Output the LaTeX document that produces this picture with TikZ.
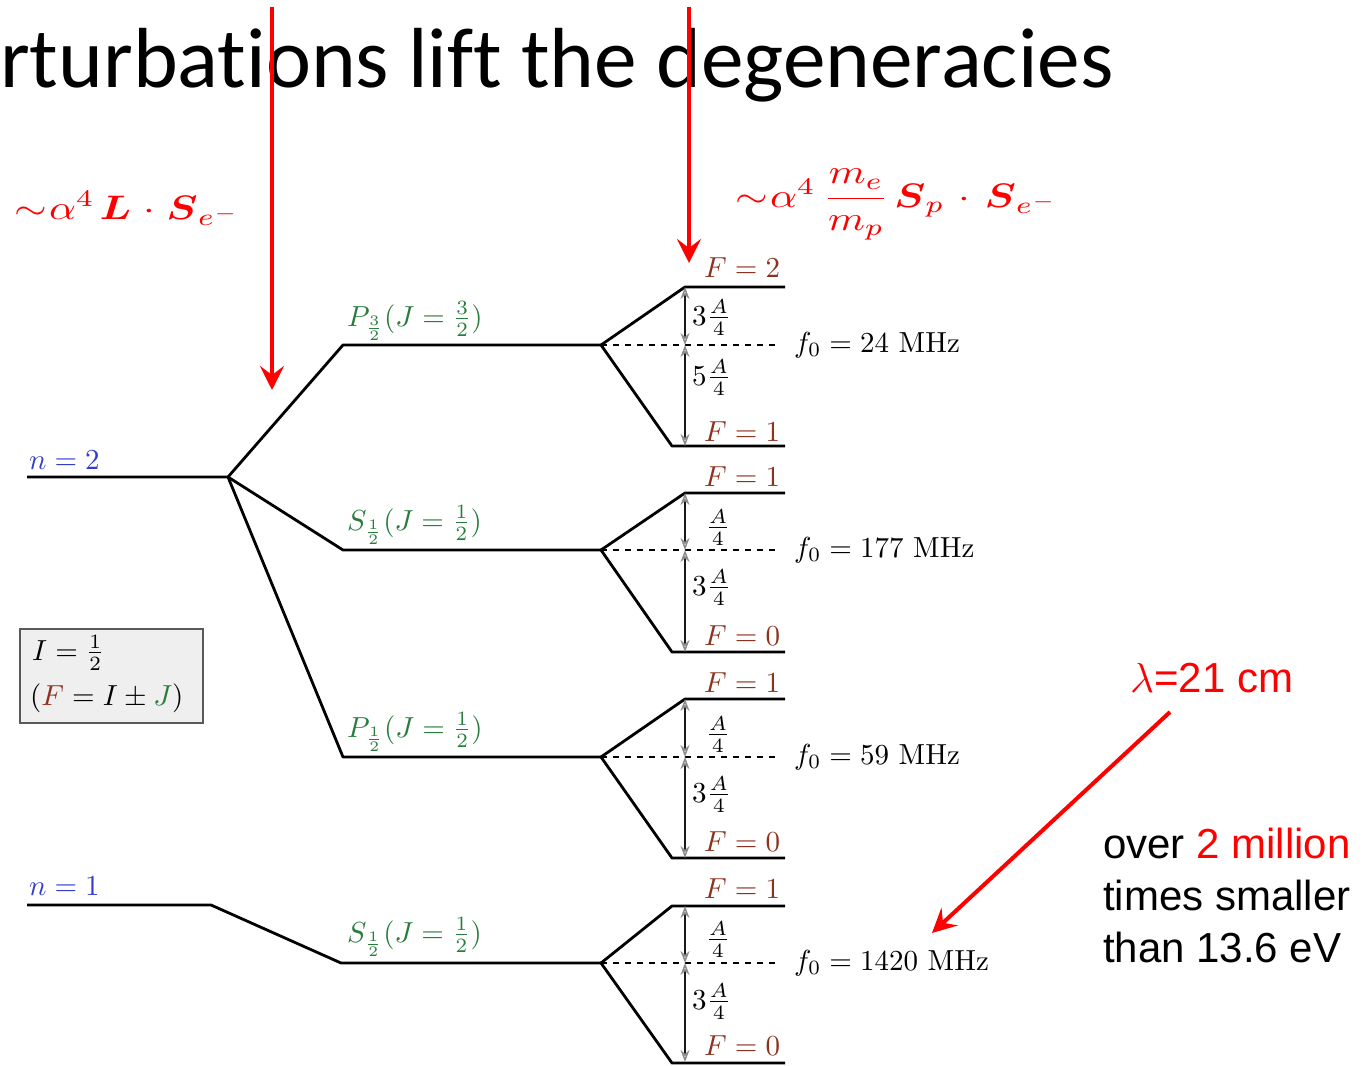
\RequirePackage{fix-cm}
\documentclass[tikz,border=0pt]{standalone}
\usepackage{amsmath}
\usepackage{graphicx}
\usepackage{fontspec}
\newfontfamily\calib[Ligatures=NoCommon]{Carlito}
\newfontfamily\arialf{Liberation Sans}
\usetikzlibrary{arrows.meta}
\definecolor{nblue}{RGB}{50,60,205}
\definecolor{jgreen}{RGB}{40,125,60}
\definecolor{fbrown}{RGB}{140,50,30}
\definecolor{boxfill}{RGB}{239,239,239}
\newcommand{\bx}[1]{\scalebox{2.9}{#1}}
\newcommand{\rx}[1]{\scalebox{4.2}[3.4]{#1}}
\begin{document}
\begin{tikzpicture}[x=1pt,y=-1pt,
  lvl/.style={line width=2.8pt, black, line join=round},
  hf/.style={line width=1.5pt, black!90,
    {Stealth[open,length=12pt,width=9pt,color=black!45]}-{Stealth[open,length=12pt,width=9pt,color=black!45]}},
  dsh/.style={line width=2pt, black, dash pattern=on 6pt off 6pt},
  redarr/.style={line width=4pt, red, -{Stealth[length=24pt,width=24pt,inset=9pt]}},
  lbl/.style={anchor=base west, inner sep=0pt},
  jl/.style={lbl, text=jgreen},
  fl/.style={lbl, text=fbrown},
  nl/.style={lbl, text=nblue},
  fr/.style={lbl},
  frc/.style={anchor=base, inner sep=0pt},
  redf/.style={anchor=base west, inner sep=0pt, text=red},
  sans/.style={anchor=base west, inner sep=0pt, font=\arialf\fontsize{42}{50}\selectfont}
]
\useasboundingbox (0,0) rectangle (1367,1065);

% title
\node[anchor=base west, inner sep=0pt, font=\calib\fontsize{85.3}{100}\selectfont] (title) at (0,88) {rturbations lift the degeneracies};

% fine structure levels
\coordinate (n2a) at (27,477);  \coordinate (n2b) at (228,477);
\coordinate (p32a) at (343,345); \coordinate (p32b) at (601,345);
\coordinate (s12a) at (343,550); \coordinate (s12b) at (601,550);
\coordinate (p12a) at (343,757); \coordinate (p12b) at (601,757);
\coordinate (n1a) at (27,905);  \coordinate (n1b) at (211,905);
\coordinate (s1a) at (341,963);  \coordinate (s1b) at (601,963);

\draw[lvl] (n2a) -- (n2b) -- (p32a) -- (p32b);
\draw[lvl] (n2b) -- (s12a) -- (s12b);
\draw[lvl] (n2b) -- (p12a) -- (p12b);
\draw[lvl] (n1a) -- (n1b) -- (s1a) -- (s1b);

% group 1 (P3/2)
\coordinate (g1t) at (685,287); \coordinate (g1te) at (785,287);
\coordinate (g1m) at (685,345); \coordinate (g1me) at (780,345);
\coordinate (g1d) at (672,446); \coordinate (g1de) at (785,446);
\coordinate (g1b) at (685,446);
\draw[lvl] (g1te) -- (g1t) -- (p32b) -- (g1d) -- (g1de);
\draw[dsh] (p32b) -- (g1me);
\draw[hf] (g1t) -- (g1m);
\draw[hf] (g1m) -- (g1b);

% group 2 (S1/2 n=2)
\coordinate (g2t) at (685,493); \coordinate (g2te) at (785,493);
\coordinate (g2m) at (685,550); \coordinate (g2me) at (780,550);
\coordinate (g2d) at (672,652); \coordinate (g2de) at (785,652);
\coordinate (g2b) at (685,652);
\draw[lvl] (g2te) -- (g2t) -- (s12b) -- (g2d) -- (g2de);
\draw[dsh] (s12b) -- (g2me);
\draw[hf] (g2t) -- (g2m);
\draw[hf] (g2m) -- (g2b);

% group 3 (P1/2)
\coordinate (g3t) at (685,699); \coordinate (g3te) at (785,699);
\coordinate (g3m) at (685,757); \coordinate (g3me) at (780,757);
\coordinate (g3d) at (672,858); \coordinate (g3de) at (785,858);
\coordinate (g3b) at (685,858);
\draw[lvl] (g3te) -- (g3t) -- (p12b) -- (g3d) -- (g3de);
\draw[dsh] (p12b) -- (g3me);
\draw[hf] (g3t) -- (g3m);
\draw[hf] (g3m) -- (g3b);

% group 4 (S1/2 n=1)
\coordinate (g4u) at (672,906); \coordinate (g4t) at (685,906); \coordinate (g4te) at (785,906);
\coordinate (g4m) at (685,963); \coordinate (g4me) at (780,963);
\coordinate (g4d) at (672,1063); \coordinate (g4de) at (785,1063);
\coordinate (g4b) at (685,1062);
\draw[lvl] (g4te) -- (g4u) -- (s1b) -- (g4d) -- (g4de);
\draw[dsh] (s1b) -- (g4me);
\draw[hf] (g4t) -- (g4m);
\draw[hf] (g4m) -- (g4b);

% level labels
\node[nl] (ln2) at (29,469) {\bx{$n=2$}};
\node[nl] (ln1) at (29,895) {\bx{$n=1$}};
\node[jl] (lp32) at (347,326) {\bx{$P_{\frac{3}{2}}(J=\frac{3}{2})$}};
\node[jl] (ls12) at (347,530) {\bx{$S_{\frac{1}{2}}(J=\frac{1}{2})$}};
\node[jl] (lp12) at (347,737) {\bx{$P_{\frac{1}{2}}(J=\frac{1}{2})$}};
\node[jl] (ls1) at (347,942) {\bx{$S_{\frac{1}{2}}(J=\frac{1}{2})$}};

% F labels
\node[fl] (f1u) at (704,277) {\bx{$F=2$}};
\node[fl] (f1d) at (704,441) {\bx{$F=1$}};
\node[fl] (f2u) at (704,486) {\bx{$F=1$}};
\node[fl] (f2d) at (704,645) {\bx{$F=0$}};
\node[fl] (f3u) at (704,692) {\bx{$F=1$}};
\node[fl] (f3d) at (704,851) {\bx{$F=0$}};
\node[fl] (f4u) at (704,898) {\bx{$F=1$}};
\node[fl] (f4d) at (704,1055) {\bx{$F=0$}};

% splitting labels
\node[fr] (a1u) at (692,325) {\bx{$3\frac{A}{4}$}};
\node[fr] (a1d) at (692,385) {\bx{$5\frac{A}{4}$}};
\node[frc] (a2u) at (718,535) {\bx{$\frac{A}{4}$}};
\node[fr] (a2d) at (692,595) {\bx{$3\frac{A}{4}$}};
\node[frc] (a3u) at (718,742) {\bx{$\frac{A}{4}$}};
\node[fr] (a3d) at (692,802) {\bx{$3\frac{A}{4}$}};
\node[frc] (a4u) at (718,947) {\bx{$\frac{A}{4}$}};
\node[fr] (a4d) at (692,1009) {\bx{$3\frac{A}{4}$}};

% frequencies
\node[fr] (fq1) at (794,352) {\bx{$f_0=24$~MHz}};
\node[fr] (fq2) at (794,557) {\bx{$f_0=177$~MHz}};
\node[fr] (fq3) at (794,764) {\bx{$f_0=59$~MHz}};
\node[fr] (fq4) at (794,970) {\bx{$f_0=1420$~MHz}};

% box
\node[draw=black!65, fill=boxfill, line width=1.5pt, anchor=north west, minimum width=183pt, minimum height=94pt, inner sep=0pt] (ibox) at (19,628) {};
\node[fr] (ib1) at (32,660) {\bx{$I=\frac{1}{2}$}};
\node[fr] (ib2) at (30,705) {\bx{$(\textcolor{fbrown}{F}=I\pm \textcolor{jgreen}{J})$}};

% red formulas
\node[redf] (lsform) at (14,219) {\rx{$\mathord{\sim}\mkern1mu\alpha^{4}\mkern2mu\boldsymbol{L}\mkern1mu\cdot\mkern1mu\boldsymbol{S}_{e^{-}}$}};
\node[redf] (ssform) at (735,207) {\rx{$\mathord{\sim}\mkern1mu\alpha^{4}\mkern3mu\dfrac{m_e}{m_p}\mkern2mu\boldsymbol{S}_{p}\mkern2mu\cdot\mkern2mu\boldsymbol{S}_{e^{-}}$}};

% red arrows
\coordinate (la0) at (272,7); \coordinate (la1) at (272,390);
\coordinate (ra0) at (689,7); \coordinate (ra1) at (689,263);
\draw[redarr] (la0) -- (la1);
\draw[redarr] (ra0) -- (ra1);

% 21 cm
\node[sans, text=red] (lam) at (1130,692) {$\lambda$=21 cm};
\coordinate (da0) at (1170,712); \coordinate (da1) at (932,933);
\draw[redarr] (da0) -- (da1);
\node[sans] (t1) at (1103,858) {over \textcolor{red}{2 million}};
\node[sans] (t2) at (1103,910) {times smaller};
\node[sans] (t3) at (1103,962) {than 13.6 eV};
\end{tikzpicture}
\end{document}
